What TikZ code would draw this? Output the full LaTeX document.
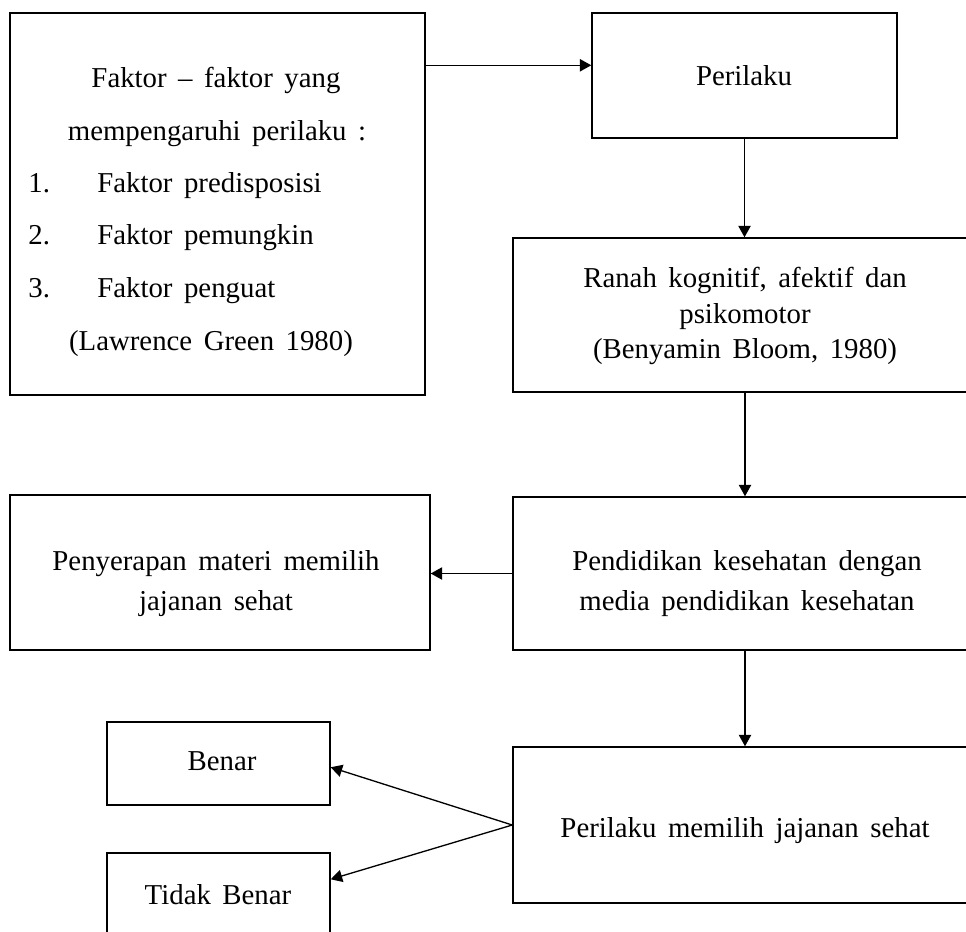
\documentclass[tikz,border=0pt]{standalone}
\usepackage{fontspec}
\setmainfont{Liberation Serif}
\usetikzlibrary{arrows.meta,calc}
\newcommand\myfont[1]{\fontsize{16.4}{#1}\selectfont\spaceskip=0.4em plus 0.1em\relax}
\begin{document}
\begin{tikzpicture}[x=0.02cm,y=-0.02cm,
  box/.style={draw, line width=0.85pt, inner sep=0pt, rectangle},
  txt/.style={font=\myfont{20}, inner sep=0pt, text height=11pt, text depth=3pt},
  mtxt/.style={font=\myfont{#1}, inner sep=0pt, align=center},
  arr/.style={line width=0.75pt, -{Triangle[length=6.5pt,width=7pt]}}
]
\useasboundingbox (0,0) rectangle (966,931);
\clip (0,0) rectangle (966,931);
% boxes
\node[box, minimum width=8.3cm, minimum height=7.64cm] (A) at (217.5,204) {};
\node[box, minimum width=6.1cm, minimum height=2.5cm] (P) at (744.5,75.5) {};
\node[box, minimum width=9.28cm, minimum height=3.08cm] (R) at (745,315) {};
\node[box, minimum width=8.4cm, minimum height=3.1cm] (S) at (220,572.5) {};
\node[box, minimum width=9.28cm, minimum height=3.06cm] (D) at (745,573.5) {};
\node[box, minimum width=4.46cm, minimum height=1.66cm] (B) at (218.5,763.5) {};
\node[box, minimum width=4.46cm, minimum height=1.66cm] (T) at (218.5,894.5) {};
\node[box, minimum width=9.28cm, minimum height=3.12cm] (M) at (745,825) {};
% texts
\node[txt] (a1) at (216,80) {Faktor – faktor yang};
\node[txt] (a2) at (217,133) {mempengaruhi perilaku :};
\node[txt, anchor=west] (n1) at (28,185) {1.};
\node[txt, anchor=west] (i1) at (97,185) {Faktor predisposisi};
\node[txt, anchor=west] (n2) at (28,237) {2.};
\node[txt, anchor=west] (i2) at (97,237) {Faktor pemungkin};
\node[txt, anchor=west] (n3) at (28,290) {3.};
\node[txt, anchor=west] (i3) at (97,290) {Faktor penguat};
\node[txt] (a6) at (211,343) {(Lawrence Green 1980)};
\node[txt] (tP) at (744,78) {Perilaku};
\node[mtxt=20.3] (tR) at (745,316) {Ranah kognitif, afektif dan\\psikomotor\\(Benyamin Bloom, 1980)};
\node[mtxt=22.8] (tS) at (216,584) {Penyerapan materi memilih\\jajanan sehat};
\node[mtxt=22.8] (tD) at (747,584) {Pendidikan kesehatan dengan\\media pendidikan kesehatan};
\node[txt] (tB) at (222,763) {Benar};
\node[txt] (tT) at (218,897) {Tidak Benar};
\node[txt] (tM) at (745,830) {Perilaku memilih jajanan sehat};
% connectors
\coordinate (aout) at ($(A.north east)+(0,53)$);
\draw[arr] (aout) -- (aout -| P.west);
\draw[arr] (P.south) -- (P.south |- R.north);
\draw[arr] (R.south) -- (R.south |- D.north);
\draw[arr] (D.west) -- (D.west -| S.east);
\draw[arr] (D.south) -- (D.south |- M.north);
\coordinate (bin) at ($(B.north east)+(0,46)$);
\coordinate (tin) at ($(T.north east)+(0,27)$);
\draw[arr] (M.west) -- (bin);
\draw[arr] (M.west) -- (tin);
\end{tikzpicture}
\end{document}
